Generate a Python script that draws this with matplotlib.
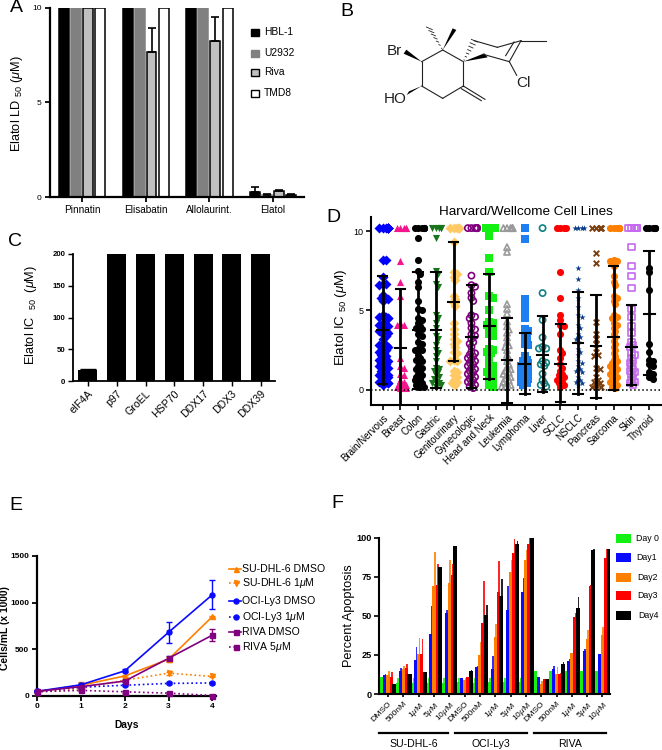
import numpy as np
from matplotlib import pyplot as plt
from matplotlib.patches import Polygon, Rectangle

plt.rcParams['font.family'] = ['Liberation Sans', 'DejaVu Sans']
plt.rcParams['mathtext.fontset'] = 'custom'
plt.rcParams['mathtext.rm'] = 'Liberation Sans'
plt.rcParams['mathtext.it'] = 'Liberation Sans:italic'
plt.rcParams['mathtext.bf'] = 'Liberation Sans:bold'

W, H = 662, 750

# panel A
a_compounds = ['Pinnatin', 'Elisabatin', 'Allolaurint.', 'Elatol']
a_lines = ['HBL-1', 'U2932', 'Riva', 'TMD8']
a_values = [[10, 10, 10, 0.25], [10, 10, 10, 0.12], [10, 7.65, 8.25, 0.3], [10, 10, 10, 0.1]]
a_err = [[0, 0, 0, 0.27], [0, 0, 0, 0.05], [0, 1.3, 1.25, 0.07], [0, 0, 0, 0.04]]
a_colors = ['#000000', '#808080', '#c0c0c0', '#ffffff']

# panel C
c_targets = ['eIF4A', 'p97', 'GroEL', 'HSP70', 'DDX17', 'DDX3', 'DDX39']
c_values = [17.5, 200, 200, 200, 200, 200, 200]

# panel D
d_names = ['Brain/Nervous', 'Breast', 'Colon', 'Gastric', 'Genitourinary', 'Gynecologic',
           'Head and Neck', 'Leukemia', 'Lymphoma', 'Liver', 'SCLC', 'NSCLC', 'Pancreas',
           'Sarcoma', 'Skin', 'Thyroid']
d_means = [3.75, 2.65, 3.75, 3.75, 5.55, 3.35, 4.0, 1.85, 1.65, 2.2, 1.65, 2.95, 2.75, 3.3, 2.7, 4.8]
d_upper = [7.15, 6.35, 7.45, 7.4, 9.3, 6.6, 7.3, 4.55, 3.55, 4.65, 4.15, 6.15, 6.0, 7.8, 5.35, 8.75]
d_lower = [0.35, -1.05, 0.05, 0.1, 1.8, 0.1, 0.7, -0.85, -0.25, -0.15, -0.8, -0.25, -0.55, 0.0, 0.3, 0.9]
d_colors = ['#0000ff', '#f5148c', '#000000', '#17761a', '#ffc966', '#800080', '#14f014', '#999999',
            '#1e7ff0', '#0f8080', '#ff0000', '#0a3d8c', '#7a4010', '#ff8000', '#c569f0', '#000000']
d_markers = ['D', '^', 'o', 'v', 'D', 'o', 's', '^', 's', 'o', 'o', '*', 'x', 'o', 's', 'o']
d_open = [False, False, False, False, False, True, False, True, False, True, False, False, False, False, True, False]
d_values = [
    [10.2] * 9 + [8.2, 8.2, 7.1, 6.7, 6.7, 6.6, 6.0, 5.8, 5.8, 5.7, 5.6, 4.7, 4.6, 4.6, 4.5, 4.5, 4.2, 4.1,
                  4.1, 4.0, 3.8, 3.7, 3.7, 3.6, 3.5, 3.4, 3.2, 2.9, 2.8, 2.8, 2.7, 2.5, 2.5, 2.4, 2.3, 2.2, 2.1,
                  2.0, 1.9, 1.8, 1.8, 1.7, 1.6, 1.5, 1.5, 1.4, 1.3, 1.2, 1.0, 1.0, 0.9, 0.9, 0.8, 0.8, 0.6, 0.5,
                  0.5, 0.4, 0.4, 0.3],
    [10.2] * 5 + [8.1, 6.8, 5.9, 4.2, 4.1, 4.1, 2.0, 1.5, 1.4, 1.0, 0.9, 0.6, 0.5, 0.4, 0.3, 0.3, 0.2, 0.2, 0.1, 0.1],
    [10.2] * 7 + [9.6, 8.2, 7.5, 7.3, 6.8, 6.5, 5.6, 5.1, 5.0, 4.5, 4.4, 4.2, 4.0, 3.9, 3.8, 3.5, 3.4, 3.0, 2.9,
                  2.6, 2.5, 2.5, 2.2, 2.0, 1.9, 1.8, 1.5, 1.4, 1.3, 1.2, 1.0, 0.9, 0.8, 0.7, 0.6, 0.5, 0.4, 0.3, 0.2, 0.2],
    [10.2] * 5 + [9.6, 7.5, 7.3, 6.7, 6.5, 4.7, 4.5, 4.2, 3.9, 3.4, 3.2, 2.8, 2.5, 2.3, 2.1, 1.8, 1.4, 1.3, 1.2,
                  1.1, 0.9, 0.8, 0.7, 0.5, 0.4, 0.4, 0.3, 0.2],
    [10.2] * 5 + [9.3, 7.4, 7.3, 7.1, 6.9, 5.9, 5.7, 5.5, 5.3, 4.2, 3.8, 3.5, 3.2, 3.1, 2.9, 2.7, 2.4, 2.3, 1.9,
                  1.8, 1.8, 1.2, 1.1, 0.9, 0.8, 0.6, 0.5, 0.4, 0.3],
    [10.2] * 9 + [7.2, 6.6, 6.5, 6.1, 5.8, 5.6, 4.7, 4.6, 4.5, 4.2, 3.9, 3.8, 3.5, 3.4, 3.2, 3.0, 2.9, 2.7, 2.4,
                  2.3, 2.2, 2.1, 2.0, 1.9, 1.8, 1.7, 1.6, 1.5, 1.4, 1.3, 1.2, 1.1, 1.0, 0.9, 0.8, 0.7, 0.6, 0.5, 0.4,
                  0.3, 0.2, 0.1],
    [10.2] * 8 + [9.7, 8.3, 7.4, 5.9, 5.8, 5.0, 4.3, 4.2, 4.1, 3.8, 3.7, 3.5, 3.4, 2.6, 2.5, 2.4, 2.3, 2.0, 1.6,
                  1.5, 1.3, 1.2, 1.1, 0.9, 0.8, 0.6, 0.5, 0.3, 0.2],
    [10.2] * 6 + [9.0, 8.7, 5.4, 5.1, 4.8, 4.3, 4.0, 3.8, 3.6, 3.3, 3.0, 2.8, 2.7, 2.5, 2.2, 2.0, 1.8, 1.6, 1.4,
                  1.3, 1.2, 1.1, 1.0, 0.9, 0.8, 0.7, 0.6, 0.5, 0.4, 0.3, 0.2, 0.2],
    [10.2, 9.5, 5.7, 5.2, 4.9, 4.5, 3.8, 3.7, 3.4, 3.2, 2.9, 2.8, 2.1, 1.9, 1.8, 1.7, 1.6, 1.5, 1.4, 1.3, 1.2, 1.1,
     1.0, 0.9, 0.8, 0.7, 0.6, 0.5, 0.4, 0.3],
    [10.2, 6.1, 4.4, 3.3, 2.7, 2.6, 2.6, 1.8, 1.7, 1.6, 1.5, 1.0, 0.6, 0.4, 0.3, 0.2],
    [10.2] * 4 + [7.4, 5.8, 4.7, 4.4, 4.1, 4.0, 3.5, 2.5, 2.3, 2.0, 1.6, 1.4, 1.2, 1.0, 0.9, 0.8, 0.7, 0.6, 0.5, 0.4, 0.3, 0.2],
    [10.2] * 4 + [7.7, 7.0, 6.3, 5.8, 5.2, 4.7, 4.6, 4.1, 3.9, 3.5, 3.3, 3.2, 3.0, 2.6, 2.4, 2.2, 1.8, 1.7, 1.5,
                  1.3, 1.2, 1.1, 0.8, 0.6, 0.5, 0.4, 0.3],
    [10.2] * 5 + [8.6, 8.0, 4.3, 3.5, 3.2, 2.9, 2.4, 2.2, 2.1, 1.4, 1.3, 0.8, 0.6, 0.5, 0.4, 0.3, 0.2, 0.2],
    [10.2] * 9 + [8.2, 8.1, 8.1, 7.8, 7.2, 6.8, 6.6, 5.9, 5.8, 5.6, 5.4, 4.7, 4.6, 4.5, 4.2, 4.1, 3.9, 3.7, 3.5, 3.3,
                  3.1, 2.9, 2.7, 2.5, 2.3, 2.1, 1.9, 1.8, 1.7, 1.6, 1.5, 1.4, 1.3, 1.2, 1.1, 1.0, 0.9, 0.8, 0.7, 0.6,
                  0.5, 0.4, 0.3, 0.2, 0.1],
    [10.2] * 5 + [9.0, 7.8, 7.2, 6.4, 5.1, 4.6, 4.0, 3.6, 3.0, 2.8, 2.7, 2.3, 2.2, 2.0, 1.8, 1.7, 1.5, 1.3, 1.2, 1.1,
                  1.0, 0.8, 0.6, 0.5, 0.4, 0.3],
    [10.2] * 6 + [7.7, 7.4, 6.3, 2.9, 2.4, 1.9, 1.8, 1.6, 1.5, 1.1, 1.0, 0.8, 0.7],
]

# panel E
e_days = [0, 1, 2, 3, 4]
e_names = ['SU-DHL-6 DMSO', 'SU-DHL-6 1$\\mu$M', 'OCI-Ly3 DMSO', 'OCI-Ly3 1$\\mu$M', 'RIVA DMSO', 'RIVA 5$\\mu$M']
e_values = [[40, 110, 210, 390, 850], [40, 75, 165, 240, 205], [45, 115, 265, 680, 1085],
            [45, 90, 110, 130, 135], [45, 95, 155, 400, 650], [40, 55, 40, 25, 0]]
e_err = [[5, 30, 15, 25, 10], [5, 15, 10, 15, 10], [5, 15, 15, 115, 155],
         [5, 10, 10, 10, 15], [5, 10, 10, 30, 60], [5, 10, 10, 10, 5]]
e_colors = ['#ff8000', '#ff8000', '#0a0aff', '#0a0aff', '#800080', '#800080']
e_markers = ['^', 'v', 'o', 'o', 's', 's']
e_styles = ['-', ':', '-', ':', '-', ':']

# panel F
f_doses = ['DMSO', '500nM', '1$\\mu$M', '5$\\mu$M', '10$\\mu$M'] * 3
f_cells = ['SU-DHL-6', 'OCI-Ly3', 'RIVA']
f_days = ['Day 0', 'Day1', 'Day2', 'Day3', 'Day4']
f_colors = ['#14f014', '#0a0aff', '#ff8000', '#ff0000', '#000000']
f_values = [
    [11, 7, 7, 7, 7, 7.5, 7, 7.5, 7.5, 7.5, 15, 15, 15, 15, 15],
    [12, 14.5, 22, 38.5, 52, 10, 17, 16, 54, 65, 11, 16, 21, 27.5, 25.5],
    [12, 16, 25.5, 69, 71, 9, 25, 36.5, 78, 86, 6.5, 12.5, 26, 35, 38],
    [11, 16.5, 25.5, 70, 76, 11, 45.5, 65.5, 90, 96, 9.5, 13, 49, 69, 87],
    [6.5, 13, 14, 81, 95, 15, 50.5, 63, 96, 99.5, 9.5, 19, 55, 92, 92.5],
]
f_err = [
    [0, 3.5, 3.5, 3.5, 3.5, 2.5, 3, 2.5, 2.5, 2.5, 0, 0, 0, 0, 0],
    [1, 2, 8, 18, 2, 0, 1, 8, 15, 9, 0, 2, 1.5, 1, 0],
    [3, 2, 10.5, 22, 14.5, 1, 8.5, 8.5, 7.5, 6, 1.5, 5, 0, 6, 5],
    [3, 2.5, 9.5, 13, 7, 0, 26.5, 19.5, 9, 4, 0, 0.5, 3, 1, 6],
    [0, 0, 0, 0, 0, 0.5, 6.5, 10.5, 2, 0.5, 0, 1.5, 7, 0.5, 0],
]


def px_axes(left, top, right, bottom):
    return fig.add_axes([left / W, 1 - bottom / H, (right - left) / W, (bottom - top) / H])


def clean(ax, lw=1.6):
    ax.spines['top'].set_visible(False)
    ax.spines['right'].set_visible(False)
    ax.spines['left'].set_linewidth(lw)
    ax.spines['bottom'].set_linewidth(lw)
    ax.tick_params(width=lw * 0.8, length=3.5, pad=2)


def swarm(vals, unit_x=17.8, unit_y=15.84, gap=3.6, limit=5.5):
    # spread equal values sideways, in pixels
    placed = []
    xs = []
    for v in sorted(vals, reverse=True):
        y = v * unit_y
        step = 0
        while True:
            k = (step + 1) // 2 * (1 if step % 2 else -1)
            x = k * 1.8
            if abs(x) > limit or all((x - p[0]) ** 2 + (y - p[1]) ** 2 >= gap ** 2 for p in placed):
                break
            step += 1
        x = max(min(x, limit), -limit)
        placed.append((x, y))
        xs.append(x / unit_x)
    return np.array(xs), np.array(sorted(vals, reverse=True))


fig = plt.figure(figsize=(W / 100, H / 100), dpi=100)

# overlay in pixel coordinates for labels, legends and the structure
over = fig.add_axes([0, 0, 1, 1], zorder=5)
over.set_xlim(0, W)
over.set_ylim(H, 0)
over.axis('off')
over.patch.set_alpha(0)

for letter, x, y in [('A', 16, 8), ('B', 347, 11), ('C', 15, 242), ('D', 333, 217), ('E', 16, 505), ('F', 337, 503)]:
    over.text(x, y, letter, fontsize=14, ha='center', va='center')

# A
ax = px_axes(49.5, 8, 304, 197)
offsets = [-0.282, -0.094, 0.094, 0.29]
for s in range(4):
    xpos = np.arange(4) + offsets[s]
    ax.bar(xpos, a_values[s], width=0.155, color=a_colors[s], edgecolor='black' if s != 1 else '#808080', linewidth=1.1)
    for i in range(4):
        if a_err[s][i] > 0:
            ax.errorbar(xpos[i], a_values[s][i], yerr=[[0], [a_err[s][i]]], color='black', capsize=3, lw=1.2, capthick=1.2)
ax.set_xlim(-0.51, 3.49)
ax.set_ylim(0, 10)
ax.set_yticks([0, 5, 10])
ax.set_xticks(range(4))
ax.set_xticklabels(a_compounds, fontsize=7.2)
clean(ax)
ax.tick_params(axis='y', labelsize=6)
over.text(17, 104, 'Elatol LD $_{50}$ ($\\mathit{\\mu}$M)', rotation=90, fontsize=9.2, ha='center', va='center')
for name, col, ec, ty in zip(a_lines, a_colors, ['black', '#808080', 'black', 'black'], [32, 53, 72, 93]):
    over.add_patch(Rectangle((251, ty - 3.5), 8, 7, facecolor=col, edgecolor=ec, lw=1, zorder=3))
    over.text(264, ty, name, fontsize=7.4, va='center')

# B
sc_x = lambda v: 340 + np.array(v) / 3
sc_y = lambda v: np.array(v) / 3
bonds = [((245, 185), (308, 150)), ((308, 150), (370, 185)), ((370, 185), (370, 258)), ((370, 258), (308, 295)),
         ((308, 295), (245, 258)), ((245, 258), (245, 185)), ((370, 258), (435, 298)), ((364, 266), (424, 302)),
         ((430, 163), (508, 185)), ((508, 185), (543, 122)), ((497, 167), (522, 126)), ((543, 122), (472, 142)),
         ((472, 142), (403, 122)), ((543, 122), (617, 122)), ((508, 185), (530, 226))]
for p, q in bonds:
    over.plot(sc_x([p[0], q[0]]), sc_y([p[1], q[1]]), color='#222222', lw=0.8)
wedges = [((308, 150), (349, 90), (338, 85)), ((245, 185), (199, 149), (191, 161)),
          ((245, 258), (207, 274), (200, 285)), ((370, 185), (443, 172), (433, 160))]
for tri in wedges:
    pts = np.column_stack([sc_x([t[0] for t in tri]), sc_y([t[1] for t in tri])])
    over.add_patch(Polygon(pts, closed=True, color='black', lw=0))
for start, end in [((308, 150), (268, 85)), ((370, 185), (403, 122))]:
    for t in np.linspace(0.08, 1, 7):
        cx = start[0] + (end[0] - start[0]) * t
        cy = start[1] + (end[1] - start[1]) * t
        over.plot(sc_x([cx - 9 * t, cx + 9 * t]), sc_y([cy - 4 * t, cy + 4 * t]), color='#222222', lw=0.6)
over.text(sc_x(163), sc_y(152), 'Br', fontsize=11, ha='center', va='center', color='#222222')
over.text(sc_x(165), sc_y(297), 'HO', fontsize=11, ha='center', va='center', color='#222222')
over.text(sc_x(550), sc_y(250), 'Cl', fontsize=11, ha='center', va='center', color='#222222')

# C
ax = px_axes(73, 254, 275, 381)
ax.bar(range(7), c_values, width=0.66, color='black')
ax.errorbar(0, c_values[0], yerr=[[0], [1.2]], color='black', capsize=6, lw=1)
ax.set_xlim(-0.52, 6.5)
ax.set_ylim(0, 200)
ax.set_yticks([0, 50, 100, 150, 200])
ax.set_xticks(range(7))
ax.set_xticklabels(c_targets, fontsize=7.6, rotation=45, ha='right', rotation_mode='anchor')
clean(ax, 1.3)
ax.tick_params(axis='y', labelsize=5.6)
for t in ax.get_yticklabels():
    t.set_fontweight('bold')
over.text(31, 315, 'Elatol IC  $_{50}$  ($\\mathit{\\mu}$M)', rotation=90, fontsize=9.2, ha='center', va='center')

# D
ax = px_axes(371, 216.7, 661.7, 405)
for i in range(16):
    ax.plot([i, i], [d_lower[i], d_upper[i]], color='black', lw=2, zorder=4)
    for v, hw in [(d_upper[i], 0.27), (d_lower[i], 0.27), (d_means[i], 0.3)]:
        ax.plot([i - hw, i + hw], [v, v], color='black', lw=1.5, zorder=4)
    xs, ys = swarm(d_values[i])
    if d_markers[i] == 'x':
        ax.scatter(i + xs, ys, marker='x', s=16, color=d_colors[i], linewidths=1.4, zorder=3, clip_on=False)
    elif d_open[i]:
        ax.scatter(i + xs, ys, marker=d_markers[i], s=20, facecolors='none', edgecolors=d_colors[i],
                   linewidths=1.2, zorder=3, clip_on=False)
    else:
        size = 36 if d_markers[i] == 's' else (22 if d_markers[i] == '*' else 26)
        ax.scatter(i + xs, ys, marker=d_markers[i], s=size, color=d_colors[i], linewidths=0, zorder=3, clip_on=False)
ax.axhline(0, color='black', lw=1.1, ls=':', zorder=5)
ax.set_xlim(-0.65, 15.7)
ax.set_ylim(-0.966, 10.92)
ax.set_yticks([0, 5, 10])
ax.set_xticks(range(16))
ax.set_xticklabels(d_names, fontsize=7, rotation=45, ha='right', rotation_mode='anchor')
clean(ax, 1.5)
ax.tick_params(axis='y', labelsize=6.5)
over.text(341, 317, 'Elatol IC $_{50}$ ($\\mathit{\\mu}$M)', rotation=90, fontsize=9.6, ha='center', va='center')
over.text(526, 212, 'Harvard/Wellcome Cell Lines', fontsize=9.7, ha='center', va='center')

# E
ax = px_axes(37, 556, 216, 695.5)
for i in range(6):
    ax.errorbar(e_days, e_values[i], yerr=e_err[i], color=e_colors[i], marker=e_markers[i], ms=3.6,
                ls=e_styles[i], lw=1.2, capsize=2.5, capthick=1, elinewidth=1, clip_on=False, zorder=3)
ax.set_xlim(0, 4.08)
ax.set_ylim(0, 1500)
ax.set_xticks(e_days)
ax.set_yticks([0, 500, 1000, 1500])
clean(ax, 1.6)
ax.tick_params(labelsize=6)
for t in ax.get_xticklabels() + ax.get_yticklabels():
    t.set_fontweight('bold')
ax.set_xlabel('Days', fontsize=7.4, fontweight='bold', labelpad=7)
over.text(5.5, 628, 'Cells/mL (x 1000)', rotation=90, fontsize=7.4, fontweight='bold', ha='center', va='center')
for i, ty in enumerate([568.5, 583, 600.5, 616.5, 632, 647]):
    over.plot([229, 241], [ty, ty], color=e_colors[i], ls=e_styles[i], lw=1.2)
    over.plot([235.5], [ty], color=e_colors[i], marker=e_markers[i], ms=3.6)
    over.text(242, ty, e_names[i], fontsize=7.6, va='center')

# F
ax = px_axes(379.3, 537.7, 609.5, 694)
bar_off = np.array([-0.4, -0.2, 0, 0.2, 0.4])
bar_w = [0.2, 0.2, 0.2, 0.2, 0.27]
for s in range(5):
    xpos = np.arange(15) + bar_off[s]
    ax.bar(xpos, f_values[s], width=bar_w[s], color=f_colors[s], linewidth=0)
    ax.bar(xpos + 0.05, f_err[s], bottom=f_values[s], width=0.1, color=f_colors[s], alpha=0.85, linewidth=0)
ax.set_xlim(-0.57, 14.46)
ax.set_ylim(0, 100)
ax.set_yticks([0, 25, 50, 75, 100])
ax.set_xticks(range(15))
ax.set_xticklabels(f_doses, fontsize=6.1, rotation=45, ha='right', rotation_mode='anchor')
clean(ax, 1.5)
ax.tick_params(axis='y', labelsize=6.6)
ax.tick_params(axis='x', length=2.5)
for t in ax.get_yticklabels():
    t.set_fontweight('bold')
over.text(349, 616, 'Percent Apoptosis', rotation=90, fontsize=9.2, ha='center', va='center')
for name, a, b in zip(f_cells, [379, 455, 534], [448, 527, 606]):
    over.plot([a, b], [732.5, 732.5], color='black', lw=1.6)
    over.text((a + b) / 2, 744, name, fontsize=7.6, ha='center', va='center')
for name, col, ty, tx in zip(f_days, f_colors, [538, 557, 577, 595, 615], [636, 636, 637, 637, 638]):
    over.add_patch(Rectangle((616, ty - 4.5), 15, 9.5, facecolor=col, edgecolor='none'))
    over.text(tx, ty + 0.5, name, fontsize=6.3, va='center')

fig.savefig('out.png', dpi=100)
